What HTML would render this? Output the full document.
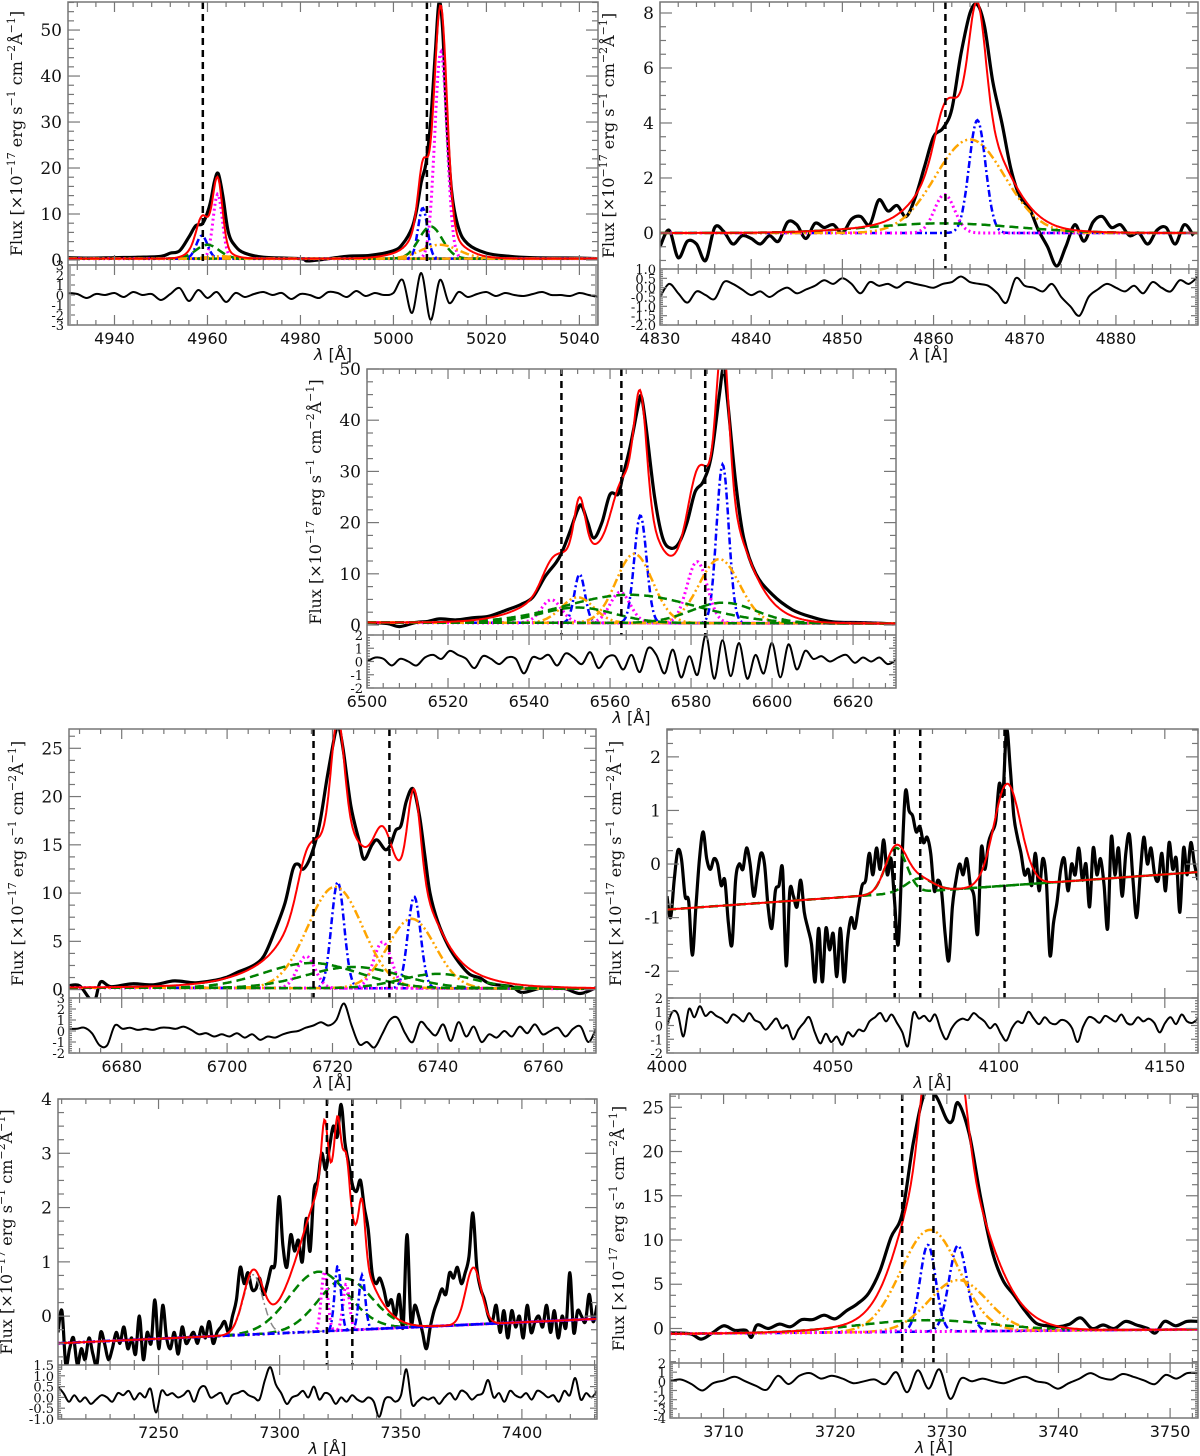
<!DOCTYPE html>
<html><head><meta charset="utf-8"><style>
html,body{margin:0;padding:0;background:#fff;}
svg{display:block;}
text{font-family:"DejaVu Serif","Liberation Serif",serif;fill:#111;}
.xl{font-family:"DejaVu Sans","Liberation Sans",sans-serif;font-size:16px;}
</style></head><body>
<svg id="fig" width="1200" height="1456" viewBox="0 0 1200 1456" xmlns="http://www.w3.org/2000/svg"></svg>
<script>
// ===== DATA =====
// Panel 1: [OIII] 4959,5007
const p1Obs=[[4930,0.5],[4935,0.4],[4940,0.5],[4945,0.6],[4950,0.8],[4952,1.5],[4954,2],[4956,5],[4957.5,7.5],[4959,8],[4960.5,12],[4961.5,17],[4962.3,18.8],[4963.3,14],[4964.5,6],[4966,3],[4968,1.5],[4972,0.6],[4980,0.3],[4982,-0.2],[4990,0.8],[4995,1],[5000,2],[5002,3.5],[5004,7],[5005,11],[5006,17],[5007,21],[5008,30],[5009,45],[5009.8,56],[5010.6,50],[5011.5,30],[5012.5,15],[5014,7],[5016,3.5],[5020,1.5],[5025,0.8],[5030,0.5],[5040,0.4],[5044,0.3]];
const p1Res=[0.2,0.1,-0.3,0.1,0,0.2,-0.2,0.3,0,0.1,-0.5,0.1,0.7,-0.6,0.5,-0.3,0.3,-0.7,0.2,-0.2,0.1,0.3,0,0.2,-0.4,0.1,0,-0.3,0.3,0.2,-0.2,0.4,-0.1,0.2,0,0.2,1.5,-1.8,2.2,-2.5,1.5,-0.8,0.3,-0.2,0.1,0.3,-0.1,0.2,0,-0.1,0.1,0.3,0,0,-0.1,0.2,0,-0.2];
const p1Kind=['m','m','b','b','g','g','o','o','h','h'];
const p1Center=[4962.2,5010.2,4958.8,5006.3,4960,5008,4963,5010,5008,4960];
const p1Amp=[14,45,5,11,3,7,0.5,3,2.5,1.5];
const p1Sigma=[1.0,1.3,1.2,1.0,2.5,2.5,3,4,6,3];
const p1Base=[0.3,0.3];
const p1Lines=[4959,5007.2];
// Panel 2: Hbeta
const p2Obs=[[4830,-0.5],[4831,0.1],[4832,-0.9],[4833,-0.3],[4834,-0.4],[4835,-1.0],[4836,0.2],[4837,0.05],[4838,-0.4],[4839,-0.1],[4840,-0.2],[4841,-0.4],[4842,-0.1],[4843,-0.3],[4844,0.4],[4845,0.3],[4846,-0.2],[4847,0.35],[4848,0.2],[4849,0.3],[4850,0.0],[4851,0.5],[4852,0.6],[4853,0.3],[4854,1.2],[4855,0.8],[4856,1.0],[4857,0.6],[4858,1.3],[4859,2.4],[4860,3.5],[4861,3.8],[4862,4.5],[4863,6.5],[4864,8.0],[4864.8,8.3],[4865.6,7.5],[4866.5,5.5],[4867.5,4.0],[4868.5,2.3],[4869.5,1.3],[4870.5,0.9],[4871.5,0.1],[4872.5,-0.5],[4873.5,-1.2],[4874.5,-0.5],[4875.5,0.3],[4876.5,-0.3],[4877.5,0.4],[4878.5,0.6],[4879.5,0.2],[4880.5,0.3],[4881.5,-0.1],[4882.5,0.0],[4883.5,-0.4],[4884.5,0.1],[4885.5,0.2],[4886.5,-0.4],[4887.5,0.3],[4888.5,-0.1]];
const p2Res=[-0.5,0.2,-0.3,-0.8,-0.2,-0.4,-0.6,0.3,0.2,-0.1,-0.4,-0.2,-0.5,-0.2,0.0,-0.3,-0.1,0.1,0.4,0.2,0.5,0.2,-0.3,0.3,0.1,0.2,0.0,0.3,0.2,0.1,0.0,0.2,0.3,0.6,0.3,0.2,0.1,-0.3,-0.8,0.5,0.1,0.0,-0.2,0.2,-0.5,-1.0,-1.5,-0.5,-0.1,0.2,0.0,-0.2,0.1,-0.3,0.3,0.0,-0.2,0.4,0.2,0.6];
const p2Kind=['b','m','o','g','h'];
const p2Center=[4864.8,4861.2,4864,4861,4864];
const p2Amp=[4.1,1.4,3.4,0.35,0.7];
const p2Sigma=[0.9,1.1,3.8,8,2.5];
const p2Base=[0,0];
const p2Lines=[4861.3];
// Panel 3: Halpha + [NII]
const p3Obs=[[6500,0.5],[6505,0.3],[6508,-0.3],[6512,0.5],[6515,0.7],[6518,1.2],[6522,1.0],[6526,1.4],[6530,1.7],[6534,2.8],[6538,4],[6541,5.5],[6544,9.5],[6546.5,12],[6548,14],[6550,18],[6552,22.5],[6553,23.3],[6554.5,20],[6556,17],[6558,20],[6560,25.5],[6562,25.5],[6563,28.5],[6565,35],[6567,43],[6567.8,44.5],[6569,38],[6571,25],[6573,17],[6575,15],[6577,16],[6579,20],[6581,26],[6583,28],[6585,33],[6587,45],[6588,50],[6589,44],[6591,28],[6593,17],[6596,10],[6600,6],[6605,3],[6610,1.5],[6615,0.6],[6620,0.5],[6625,0.4],[6630,0.2]];
const p3Res=[0,0.3,0.2,-0.3,0.2,0,-0.3,0.3,0.5,0.2,0.8,0.5,0.2,-0.5,0.4,0.2,-0.2,0.3,0.2,-0.9,0.3,0.2,0.5,-0.3,0.6,0.3,-0.2,0.7,-0.5,0.3,0.4,-0.6,0.5,-0.8,1.0,0.5,-0.9,0.9,-1.2,0.4,-1.0,2.0,-1.3,1.6,-1.1,1.4,-1.3,0.5,-0.9,1.4,-1.2,1.3,-0.6,0.8,0.2,0.4,0.0,0.3,0.5,-0.1,0.3,0.0,0.3,-0.2,0.1];
const p3Kind=['b','b','b','m','m','m','o','o','o','g','g','g','h','h'];
const p3Center=[6552.5,6567.5,6587.8,6545.5,6562.5,6581.5,6552,6566,6587,6565,6552,6588,6568,6590];
const p3Amp=[9.5,21,31,4.5,6,12,5,13.5,12.5,5.5,3,4,4.5,4];
const p3Sigma=[1.3,1.5,1.5,2.5,2.5,2.5,4,4.5,5,16,9,8,16,7];
const p3Base=[0.5,0.3];
const p3Lines=[6548,6562.8,6583.5];
// Panel 4: [SII]
const p4Obs=[[6670,0.4],[6672,0.4],[6674,-1],[6675,-1],[6676,0.8],[6678,0.3],[6682,0.6],[6686,0.5],[6690,0.9],[6694,0.7],[6698,1.0],[6700,1.3],[6702,1.8],[6705,2.5],[6707,3.5],[6709,6],[6711,9],[6712.5,12.5],[6713.5,13],[6714.5,12.5],[6716,14],[6717.5,17],[6719,22],[6720.5,26.5],[6721.2,27.2],[6722,25],[6723.5,19],[6725,15.5],[6726,13.5],[6727.5,15],[6728.5,15.5],[6730,14.5],[6731,15],[6732,16.5],[6733,17],[6734,19.5],[6735.3,20.8],[6736.5,18],[6737.5,14],[6738.5,10],[6740,7],[6742,4.5],[6744,2.8],[6746,1.6],[6748,1.2],[6750,0.6],[6754,0.3],[6756,-0.3],[6760,0.2],[6764,0.1],[6767,-0.4],[6770,0.2]];
const p4Res=[0.2,0.2,0.3,-0.2,-1.3,-1.3,0.5,0.2,0.3,0.1,0.2,0.1,0.3,0.3,0.2,0.4,0.1,-0.3,-0.2,-0.5,-0.3,-0.5,-0.2,-0.6,-0.3,-0.8,-0.5,-0.6,-0.3,-0.1,0,0.3,0.5,0.8,0.5,1.0,2.5,0.5,-1.2,-1.0,-1.5,-0.3,1.0,1.2,-0.2,-1.0,0.8,0.2,-0.4,0.6,-0.9,0.8,-0.5,0.4,-1.0,-0.3,-0.6,0.0,-0.5,0.4,-0.2,0.6,-0.3,0.0,0.3,-0.5,0.2,0.4,-1.0,0.2];
const p4Kind=['b','b','m','m','o','o','g','g','g','h','h'];
const p4Center=[6721,6735.5,6715,6729.5,6720.5,6735,6716,6724,6740,6724,6727];
const p4Amp=[11,9.5,3.3,4.8,10.5,7.2,2.6,2.2,1.5,0.9,2.5];
const p4Sigma=[1.2,1.2,1.7,1.7,5.2,4.5,9,9,7,20,5];
const p4Base=[0.2,0.1];
const p4Lines=[6716.4,6730.8];
// Panel 5: Hdelta region
const p5Obs=[-0.6,-1.0,-0.3,0.25,0.1,-0.6,-0.7,-1.7,-0.8,0.1,0.6,0.1,-0.1,0.1,0.0,-0.4,-0.3,-1.1,-1.5,-0.3,0.0,-0.1,0.3,0.0,-0.6,-0.2,0.2,0.0,-0.8,-1.2,-0.5,-0.4,-0.1,-1.9,-0.5,-0.6,-0.8,-0.3,-0.9,-1.2,-1.5,-2.2,-1.2,-2.2,-1.2,-1.6,-1.3,-2.1,-1.2,-2.2,-1.4,-1.0,-1.2,-0.8,-0.4,-0.3,0.2,-0.2,0.3,-0.1,0.45,-0.2,0.1,-0.7,-1.5,0.0,1.35,1.0,0.9,0.6,0.7,0.4,0.5,0.2,-0.5,-0.3,-0.5,-1.3,-1.8,-0.8,-0.3,0.0,-0.2,0.1,-0.4,-0.6,-1.3,0.3,-0.1,0.4,0.6,0.8,1.5,1.3,2.5,1.8,0.9,0.5,0.2,-0.2,-0.1,-0.4,0.2,-0.5,0.1,-0.3,-1.7,-1.1,-0.7,-0.1,0.1,-0.5,0.0,-0.2,0.3,-0.3,0.0,-0.8,0.3,-0.2,0.1,-0.4,-1.2,0.5,-0.2,0.3,-0.6,0.2,0.55,-0.3,-1.0,-0.2,0.5,0.0,0.3,-0.2,-0.3,0.2,-0.5,0.4,-0.1,0.1,-0.9,0.3,-0.2,0.4,0.0,-0.3];
const p5Res=[0,1.0,0.8,-0.8,1.2,0.6,1.4,0.7,1.0,0.7,0.5,0.2,0.8,0.6,0.3,0.9,0.4,0.2,-0.3,0.1,0.5,-0.2,0.0,-1.0,-0.3,0.2,0.6,-0.5,-1.3,-0.6,-1.2,-0.8,-1.4,-0.5,-0.8,-0.3,-0.4,0.3,0.6,0.9,0.3,0.8,0.2,-0.5,-1.5,0.9,0.5,0.7,0.3,0.8,-0.3,-1.0,-0.2,0.3,0.5,0.4,0.9,0.6,0.3,-0.2,0.1,-0.6,-1.1,-0.2,0.3,0.2,1.0,0.5,0.1,0.6,0.2,0.1,0.4,0.3,-0.2,-1.2,-0.1,0.6,0.5,0.2,0.7,0.5,0.3,0.8,0.2,0.1,0.6,0.3,0.5,0.2,-0.5,0.2,0.6,0.1,0.8,0.3,0.2,0.5];
const p5Kind=['g','g','h'];
const p5Center=[4069,4076,4102.5];
const p5Amp=[0.85,0.25,1.9];
const p5Sigma=[3.2,4,4];
const p5Base=[-0.85,-0.15];
const p5Lines=[4068.6,4076.3,4101.7];
// Panel 6: [OII] 7320,7330
const p6Obs=[-0.3,0.1,-0.9,-0.6,-0.4,-0.9,-0.6,-0.8,-0.4,-0.7,-0.9,-0.3,-0.5,-0.8,-0.6,-0.3,-0.5,-0.2,-0.6,-0.4,-0.7,0.0,-0.8,-0.3,-0.5,0.3,-0.6,0.2,-0.4,-0.6,-0.3,-0.7,-0.2,-0.5,-0.4,-0.3,-0.5,-0.2,-0.4,-0.1,-0.5,-0.3,-0.2,-0.1,-0.3,0.0,0.3,0.9,0.6,0.8,0.5,0.5,0.7,0.4,0.6,0.9,1.0,2.2,1.3,0.9,1.5,1.2,1.4,1.0,1.8,1.2,2.3,2.5,3.0,2.7,3.1,3.5,3.3,3.9,3.2,2.8,2.4,2.3,2.5,2.0,1.6,0.8,0.6,0.7,0.5,0.2,0.3,0.0,0.4,-0.2,1.5,-0.1,0.2,0.0,-0.3,-0.6,-0.2,0.1,0.3,0.5,0.4,0.8,0.7,0.9,0.6,0.8,1.1,1.9,0.9,0.5,0.3,0.0,-0.1,0.2,-0.3,0.1,-0.4,0.1,-0.2,0.0,-0.4,0.2,-0.3,-0.1,0.0,-0.2,0.2,-0.3,0.1,-0.4,0.0,-0.2,0.8,-0.3,0.1,0.0,-0.1,0.4,-0.1,0.2];
const p6Res=[0.5,0.2,-0.2,0.1,-0.2,0.0,-0.3,-0.1,0.1,0.0,-0.2,0.2,0.1,0.3,-0.1,0.2,0.0,0.4,-0.7,0.3,0.1,0.2,0.0,0.1,0.3,-0.2,0.4,0.5,0.0,0.1,0.2,-0.3,0.1,0.2,0.3,0.1,0.0,-0.1,0.8,1.4,0.6,0.2,-0.3,0.0,0.1,0.3,0.0,0.5,-0.1,0.2,0.1,-0.3,0.0,-0.2,0.1,-0.1,-0.2,0.0,-0.2,-0.9,-0.1,0.0,-0.2,0.1,1.3,-0.3,-0.2,0.0,-0.1,0.0,-0.3,0.0,0.2,-0.1,0.3,0.2,-0.1,0.1,0.2,0.8,0.0,0.2,-0.2,0.3,0.1,0.0,0.2,-0.1,0.3,0.2,0.0,0.1,-0.2,0.3,0.1,0.9,-0.1,0.2,0.0,0.3];
const p6Kind=['k','g','g','m','m','b','b','h','h','h'];
const p6Center=[7289,7316,7327,7318.5,7327.5,7324,7334,7324,7380,7318];
const p6Amp=[1.1,1.1,0.95,1.1,0.85,1.2,1.0,0.3,1.05,0.8];
const p6Sigma=[4,12,11,1.3,1.3,1.3,1.3,7,3.2,9];
const p6Base=[-0.5,-0.05];
const p6Lines=[7319.5,7330];
// Panel 7: [OII] 3726,3729
const p7Obs=[[3705,-0.5],[3707,-0.6],[3708,-1.2],[3709,-0.5],[3710,0.3],[3711,-0.2],[3712,-0.2],[3712.5,-1.0],[3713,0.4],[3714,0],[3715,0.5],[3716,0.2],[3717,1.0],[3718,1.0],[3719,1.5],[3720,1.1],[3721,2.0],[3722,2.8],[3723,4.0],[3724,6.5],[3725,10.3],[3726,13],[3727,21],[3728,26.5],[3729,26.3],[3730,23.6],[3730.5,23.5],[3731,25.5],[3732,22],[3733,15],[3734,9],[3735,5.5],[3736,3.8],[3737,2.0],[3738,0.6],[3739,0.3],[3740,0.2],[3741,0.5],[3742,1.2],[3743,0.0],[3744,0.4],[3745,0.0],[3746,0.8],[3747,0.4],[3748,0.0],[3748.7,-0.5],[3749.5,0.8],[3750.5,0.3],[3751.5,0.8],[3752.5,0.8]];
const p7Res=[0.0,0.2,-0.3,-1.0,-0.2,0.1,0.5,0.0,-0.5,-0.9,0.6,-0.3,0.6,0.9,0.3,0.6,0.3,-0.2,0.0,0.2,-0.3,1.0,-1.2,1.2,-0.8,1.3,-1.9,0.3,0.0,0.3,0.0,-0.2,0.2,0.5,0.0,-0.2,-0.8,-0.2,0.3,0.9,0.4,0.2,0.8,0.5,0.1,-0.3,0.7,0.3,0.9,0.9];
const p7Kind=['b','b','o','o','g','m','h'];
const p7Center=[3728.3,3731,3728.5,3731,3728,3726,3731];
const p7Amp=[9.8,9.7,11.5,5.8,1.3,0.15,7.5];
const p7Sigma=[0.7,0.8,2.6,2.6,6,1,3.5];
const p7Base=[-0.6,-0.1];
const p7Lines=[3726,3728.8];

// ===== RENDERING =====
const NS='http://www.w3.org/2000/svg';
const svg=document.getElementById('fig');
const STY={b:{c:'#0000ff',d:'7,3,2,3',w:2.5},m:{c:'#ff00ff',d:'2,3',w:3},o:{c:'#ffa500',d:'9,3,2,3,2,3',w:2.5},g:{c:'#008000',d:'9,5',w:2.5},k:{c:'#888888',d:'8,3,2,3',w:1.5}};
function el(tag,attrs,parent){const e=document.createElementNS(NS,tag);for(const k in attrs)e.setAttribute(k,attrs[k]);(parent||svg).appendChild(e);return e;}
function smoothPath(p){
  let d='M'+p[0][0].toFixed(1)+','+p[0][1].toFixed(1);
  for(let i=0;i<p.length-1;i++){
    const p0=p[Math.max(0,i-1)],p1=p[i],p2=p[i+1],p3=p[Math.min(p.length-1,i+2)];
    const c1x=p1[0]+(p2[0]-p0[0])/6,c1y=p1[1]+(p2[1]-p0[1])/6,c2x=p2[0]-(p3[0]-p1[0])/6,c2y=p2[1]-(p3[1]-p1[1])/6;
    d+=' C'+c1x.toFixed(1)+','+c1y.toFixed(1)+' '+c2x.toFixed(1)+','+c2y.toFixed(1)+' '+p2[0].toFixed(1)+','+p2[1].toFixed(1);
  }
  return d;
}
let clipId=0;
function panel(cfg,data){
  const g=el('g',{});
  
  
  const X=v=>cfg.L+(v-cfg.x0)/(cfg.x1-cfg.x0)*(cfg.R-cfg.L);
  const Y=v=>cfg.M-(v-cfg.y0)/(cfg.y1-cfg.y0)*(cfg.M-cfg.T);
  const RY=v=>cfg.B-(v-cfg.r0)/(cfg.r1-cfg.r0)*(cfg.B-cfg.M);
  const base=l=>data.base[0]+(data.base[1]-data.base[0])*(l-cfg.x0)/(cfg.x1-cfg.x0);
  const gauss=(i,l)=>data.amp[i]*Math.exp(-0.5*Math.pow((l-data.center[i])/data.sigma[i],2));
  const cid='c'+(clipId++), rid='r'+(clipId++);
  const defs=el('defs',{},g);
  const cp=el('clipPath',{id:cid},defs);el('rect',{x:cfg.L,y:cfg.T,width:cfg.R-cfg.L,height:cfg.M-cfg.T},cp);
  const rp=el('clipPath',{id:rid},defs);el('rect',{x:cfg.L,y:cfg.M,width:cfg.R-cfg.L,height:cfg.B-cfg.M},rp);
  const pg=el('g',{'clip-path':'url(#'+cid+')'},g);
  const N=500, lams=[];for(let i=0;i<=N;i++)lams.push(cfg.x0+(cfg.x1-cfg.x0)*i/N);
  let obsPts;
  if(Array.isArray(data.obs[0]))obsPts=data.obs;
  else obsPts=data.obs.map((v,i)=>[cfg.x0+(cfg.x1-cfg.x0)*i/(data.obs.length-1),v]);
  const ob=el('path',{d:smoothPath(obsPts.map(p=>[X(p[0]),Y(p[1])])),fill:'none',stroke:'#000','stroke-width':3.2,'stroke-linejoin':'round'},pg);
  
  
  data.kind.forEach((k,i)=>{
    if(k==='h')return;
    const s=STY[k];
    const pts=lams.map(l=>X(l).toFixed(1)+','+Y(base(l)+gauss(i,l)).toFixed(1)).join(' ');
    const c=el('polyline',{points:pts,fill:'none',stroke:s.c,'stroke-width':s.w,'stroke-dasharray':s.d},pg);
    
    
  });
  const tot=lams.map(l=>{let v=base(l);data.kind.forEach((k,i)=>{v+=gauss(i,l);});return X(l).toFixed(1)+','+Y(v).toFixed(1);}).join(' ');
  const rf=el('polyline',{points:tot,fill:'none',stroke:'#ff0000','stroke-width':2},pg);
  
  
  data.lines.forEach(l=>{
    const v=el('line',{x1:X(l),x2:X(l),y1:cfg.T,y2:cfg.M,stroke:'#000','stroke-width':2.5,'stroke-dasharray':'7,5'},g);
    
    
  });
  const rg=el('g',{'clip-path':'url(#'+rid+')'},g);
  const rpts=data.res.map((v,i)=>[X(cfg.x0+(cfg.x1-cfg.x0)*i/(data.res.length-1)),RY(v)]);
  const rl=el('path',{d:smoothPath(rpts),fill:'none',stroke:'#000','stroke-width':2},rg);
  
  
  el('rect',{x:cfg.L,y:cfg.T,width:cfg.R-cfg.L,height:cfg.B-cfg.T,fill:'none',stroke:'#777','stroke-width':1.5},g);
  el('line',{x1:cfg.L,x2:cfg.R,y1:cfg.M,y2:cfg.M,stroke:'#777','stroke-width':1.5},g);
  const tk=(x1,y1,x2,y2)=>el('line',{x1,y1,x2,y2,stroke:'#777','stroke-width':1.2},g);
  const xa=el('g',{},g);
  
  
  for(let v=Math.ceil(cfg.x0/cfg.xmin)*cfg.xmin;v<=cfg.x1+1e-6;v+=cfg.xmin){
    const maj=Math.abs(v/cfg.xmaj-Math.round(v/cfg.xmaj))<1e-6, len=maj?10:5, x=X(v);
    [cfg.T,cfg.M].forEach(y=>tk(x,y,x,y+len));
    [cfg.M,cfg.B].forEach(y=>tk(x,y,x,y-len));
    if(maj){const t=el('text',{x:x,y:cfg.B+19,'text-anchor':'middle',class:'xl'},xa);t.textContent=Math.round(v);}
  }
  const xt=el('text',{x:(cfg.L+cfg.R)/2,y:cfg.B+35,'text-anchor':'middle',class:'xl','font-size':'18'},g);
  
  
  xt.innerHTML='<tspan font-style="italic">λ</tspan> [Å]';
  const ya=el('g',{},g);
  
  
  for(let v=Math.ceil(cfg.y0/cfg.ymin)*cfg.ymin;v<=cfg.y1+1e-6;v+=cfg.ymin){
    const maj=Math.abs(v/cfg.ymaj-Math.round(v/cfg.ymaj))<1e-6, len=maj?12:6, y=Y(v);
    tk(cfg.L,y,cfg.L+len,y);tk(cfg.R,y,cfg.R-len,y);
    if(maj){const t=el('text',{x:cfg.L-6,y:y+6,'text-anchor':'end','font-size':'17'},ya);t.textContent=Math.round(v/cfg.ymaj)*cfg.ymaj;}
  }
  for(let v=cfg.r0;v<=cfg.r1+1e-6;v+=cfg.rstep/5){
    const maj=Math.abs(v/cfg.rstep-Math.round(v/cfg.rstep))<1e-6, len=maj?7:3, y=RY(v);
    tk(cfg.L,y,cfg.L+len,y);tk(cfg.R,y,cfg.R-len,y);
    if(maj){const t=el('text',{x:cfg.L-4,y:y+5,'text-anchor':'end','font-size':'13'},ya);
      const r=Math.round(v/cfg.rstep)*cfg.rstep;t.textContent=cfg.rstep<1?r.toFixed(1):r;}
  }
  const cx=cfg.L-46, cy=(cfg.T+cfg.M)/2;
  const yt=el('text',{x:cx,y:cy,'text-anchor':'middle','font-size':'16',transform:'rotate(-90 '+cx+' '+cy+')'},g);
  
  
  yt.innerHTML='Flux [×10<tspan dy="-7" font-size="11">−17</tspan><tspan dy="7"> erg s</tspan><tspan dy="-7" font-size="11">−1</tspan><tspan dy="7"> cm</tspan><tspan dy="-7" font-size="11">−2</tspan><tspan dy="7">Å</tspan><tspan dy="-7" font-size="11">−1</tspan><tspan dy="7">]</tspan>';
}
panel({name:'panel-oiii-5007',L:68,R:598,T:2,M:265,B:325,x0:4930,x1:5044,y0:-1.09,y1:56.1,r0:-3,r1:3,rstep:1,xmaj:20,xmin:4,ymaj:10,ymin:2},
  {obs:p1Obs,res:p1Res,kind:p1Kind,center:p1Center,amp:p1Amp,sigma:p1Sigma,base:p1Base,lines:p1Lines});
panel({name:'panel-hbeta',L:660,R:1198,T:2,M:269,B:325,x0:4830,x1:4889,y0:-1.31,y1:8.4,r0:-2,r1:1,rstep:0.5,xmaj:10,xmin:2,ymaj:2,ymin:0.5},
  {obs:p2Obs,res:p2Res,kind:p2Kind,center:p2Center,amp:p2Amp,sigma:p2Sigma,base:p2Base,lines:p2Lines});
panel({name:'panel-halpha-nii',L:367,R:896,T:369,M:635,B:688,x0:6500,x1:6630.6,y0:-1.95,y1:50,r0:-2,r1:2,rstep:1,xmaj:20,xmin:4,ymaj:10,ymin:2.5},
  {obs:p3Obs,res:p3Res,kind:p3Kind,center:p3Center,amp:p3Amp,sigma:p3Sigma,base:p3Base,lines:p3Lines});
panel({name:'panel-sii',L:69,R:596,T:729,M:998,B:1053,x0:6670,x1:6770,y0:-0.87,y1:27,r0:-2,r1:3,rstep:1,xmaj:20,xmin:4,ymaj:5,ymin:1.25},
  {obs:p4Obs,res:p4Res,kind:p4Kind,center:p4Center,amp:p4Amp,sigma:p4Sigma,base:p4Base,lines:p4Lines});
panel({name:'panel-hdelta',L:667,R:1198,T:729,M:998,B:1053,x0:4000,x1:4160,y0:-2.5,y1:2.52,r0:-2,r1:2,rstep:1,xmaj:50,xmin:10,ymaj:1,ymin:0.25},
  {obs:p5Obs,res:p5Res,kind:p5Kind,center:p5Center,amp:p5Amp,sigma:p5Sigma,base:p5Base,lines:p5Lines});
panel({name:'panel-oii-7320',L:58,R:597,T:1099,M:1365,B:1419,x0:7208.5,x1:7431,y0:-0.9,y1:4,r0:-1,r1:1.5,rstep:0.5,xmaj:50,xmin:10,ymaj:1,ymin:0.25},
  {obs:p6Obs,res:p6Res,kind:p6Kind,center:p6Center,amp:p6Amp,sigma:p6Sigma,base:p6Base,lines:p6Lines});
panel({name:'panel-oii-3727',L:670,R:1198,T:1094,M:1363,B:1418,x0:3705.2,x1:3752.5,y0:-3.9,y1:26.5,r0:-4,r1:2,rstep:1,xmaj:10,xmin:2,ymaj:5,ymin:1.25},
  {obs:p7Obs,res:p7Res,kind:p7Kind,center:p7Center,amp:p7Amp,sigma:p7Sigma,base:p7Base,lines:p7Lines});
</script>
</body></html>
